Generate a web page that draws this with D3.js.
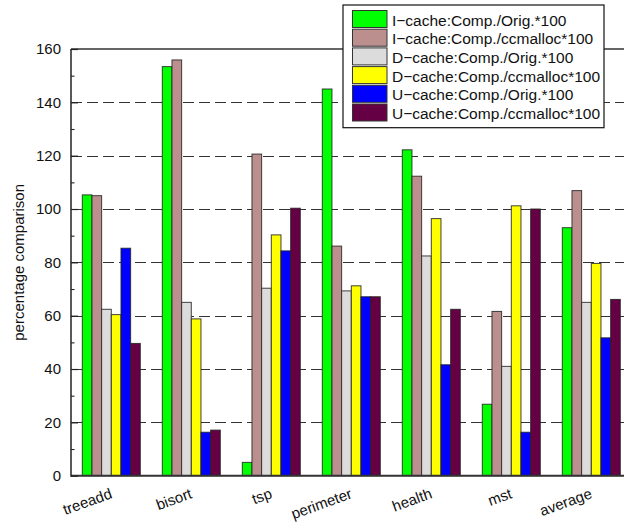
<!DOCTYPE html>
<html>
<head>
<meta charset="utf-8">
<script src="https://cdn.jsdelivr.net/npm/d3@7"></script>
<style>
  html, body { margin: 0; padding: 0; background: #fff; }
  svg { display: block; }
  text { font-family: "Liberation Sans", Arial, Helvetica, sans-serif; fill: #111; }
</style>
</head>
<body>
<script>
const categories = ["treeadd", "bisort", "tsp", "perimeter", "health", "mst", "average"];
const seriesNames = [
  "I\u2212cache:Comp./Orig.*100",
  "I\u2212cache:Comp./ccmalloc*100",
  "D\u2212cache:Comp./Orig.*100",
  "D\u2212cache:Comp./ccmalloc*100",
  "U\u2212cache:Comp./Orig.*100",
  "U\u2212cache:Comp./ccmalloc*100"
];
const iCacheOrig     = [105.3, 153.4, 5.0, 145.0, 122.2, 26.8, 93.0];
const iCacheCcmalloc = [105.0, 155.9, 120.6, 86.1, 112.3, 61.6, 106.9];
const dCacheOrig     = [62.4, 65.0, 70.3, 69.3, 82.4, 41.0, 65.0];
const dCacheCcmalloc = [60.4, 58.8, 90.3, 71.2, 96.4, 101.2, 79.6];
const uCacheOrig     = [85.3, 16.3, 84.3, 67.1, 41.6, 16.3, 51.7];
const uCacheCcmalloc = [49.6, 17.1, 100.3, 67.1, 62.4, 100.0, 66.1];
const seriesColors = ["#00ff00", "#bc8f8f", "#dcdcdc", "#ffff00", "#0000ff", "#660044"];
const yTicks = [0, 20, 40, 60, 80, 100, 120, 140, 160];
const yMinorTicks = [10, 30, 50, 70, 90, 110, 130, 150];
const yLabel = "percentage comparison";

const seriesValues = [iCacheOrig, iCacheCcmalloc, dCacheOrig, dCacheCcmalloc, uCacheOrig, uCacheCcmalloc];

const W = 624, H = 524;
const svg = d3.select("body").append("svg").attr("width", W).attr("height", H);

const x0 = d3.scaleBand().domain(categories).range([71, 631]);
const x1 = d3.scaleBand().domain(d3.range(seriesNames.length)).range([11.3, 69.3]);
const y = d3.scaleLinear().domain([0, 160]).range([475.7, 49]);

// gridlines
svg.append("g").selectAll("line").data(yTicks.filter(t => t > 0 && t < 160)).join("line")
  .attr("x1", 71).attr("x2", 631)
  .attr("y1", d => Math.round(y(d)) + 0.5).attr("y2", d => Math.round(y(d)) + 0.5)
  .attr("stroke", "#333").attr("stroke-width", 1.1)
  .attr("stroke-dasharray", "11,5");

// top frame
svg.append("line").attr("x1", 71).attr("x2", 631).attr("y1", y(160)).attr("y2", y(160))
  .attr("stroke", "#333").attr("stroke-width", 1.5);

// bars
const groups = svg.append("g").selectAll("g").data(categories).join("g")
  .attr("transform", d => `translate(${x0(d)},0)`);
groups.selectAll("rect")
  .data((c, ci) => seriesValues.map((vals, si) => ({ si, v: vals[ci] })))
  .join("rect")
  .attr("x", d => x1(d.si))
  .attr("width", x1.bandwidth())
  .attr("y", d => y(d.v))
  .attr("height", d => y(0) - y(d.v))
  .attr("fill", d => seriesColors[d.si])
  .attr("stroke", "#222").attr("stroke-width", 1).attr("stroke-opacity", 0.85);

// x axis baseline
svg.append("line").attr("x1", 71).attr("x2", 631).attr("y1", y(0)).attr("y2", y(0))
  .attr("stroke", "#333").attr("stroke-width", 2);

// y axis
const yAxis = d3.axisRight(y).tickValues(yTicks).tickSize(7).tickFormat("");
const gy = svg.append("g").attr("transform", "translate(71,0)").call(yAxis);
gy.select(".domain").remove();
gy.selectAll(".tick line").attr("stroke", "#222").attr("stroke-width", 1.2);
const yMinor = d3.axisRight(y).tickValues(yMinorTicks).tickSize(3.5).tickFormat("");
const gym = svg.append("g").attr("transform", "translate(71,0)").call(yMinor);
gym.select(".domain").remove();
gym.selectAll(".tick line").attr("stroke", "#222").attr("stroke-width", 1.1);
svg.append("line").attr("x1", 71).attr("x2", 71).attr("y1", y(160)).attr("y2", y(0) + 1)
  .attr("stroke", "#222").attr("stroke-width", 1.5);

// y tick labels
svg.append("g").selectAll("text").data(yTicks).join("text")
  .attr("x", 61).attr("y", d => y(d)).attr("dy", "0.36em")
  .attr("text-anchor", "end").attr("font-size", 15).text(d => d);

// y label
svg.append("text")
  .attr("transform", `translate(24,${(y(0) + y(160)) / 2}) rotate(-90)`)
  .attr("text-anchor", "middle").attr("font-size", 15).text(yLabel);

// x labels
svg.append("g").selectAll("text").data(categories).join("text")
  .attr("transform", d => `translate(${x0(d) + x0.bandwidth() / 2 + 2},${y(0) + 22}) rotate(-20)`)
  .attr("text-anchor", "end").attr("font-size", 15).text(d => d);

// legend
const lg = svg.append("g");
lg.append("rect").attr("x", 343).attr("y", 5).attr("width", 261).attr("height", 122.7)
  .attr("fill", "#fff").attr("stroke", "#111").attr("stroke-width", 1.2);
const rows = lg.selectAll("g").data(seriesNames).join("g")
  .attr("transform", (d, i) => `translate(0,${10 + i * 18.7})`);
rows.append("rect").attr("x", 352.5).attr("y", 0.5).attr("width", 34.5).attr("height", 17)
  .attr("fill", (d, i) => seriesColors[i]).attr("stroke", "#333").attr("stroke-width", 1);
rows.append("text").attr("x", 392).attr("y", 15.5).attr("font-size", 15.5).text(d => d);
</script>
</body>
</html>
